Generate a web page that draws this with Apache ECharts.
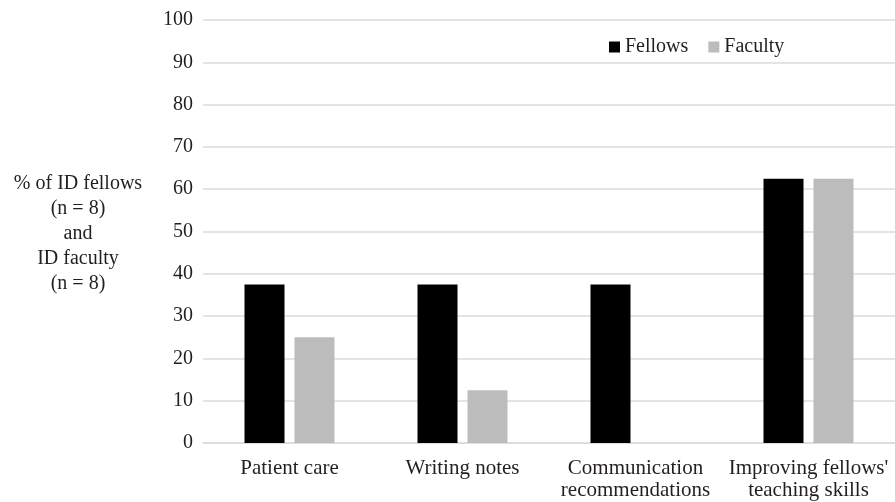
<!DOCTYPE html>
<html>
<head>
<meta charset="utf-8">
<script src="https://cdn.jsdelivr.net/npm/echarts@6/dist/echarts.min.js"></script>
<style>
html,body{margin:0;padding:0;background:#fff;}
#chart{width:895px;height:502px;}
</style>
</head>
<body>
<div id="chart"></div>
<script>
const categories = ['Patient care', 'Writing notes', 'Communication\nrecommendations', "Improving fellows'\nteaching skills"];
const fellows = [37.5, 37.5, 37.5, 62.5];
const faculty = [25, 12.5, 0, 62.5];
const yTicks = { min: 0, max: 100, interval: 10 };
const yName = '% of ID fellows\n(n = 8)\nand\nID faculty\n(n = 8)';

const FONT = '"Liberation Serif", "DejaVu Serif", serif';
const TXT = '#231f20';
const GRID = '#dedad8';

const chart = echarts.init(document.getElementById('chart'), null, { renderer: 'canvas' });
chart.setOption({
  animation: false,
  backgroundColor: '#ffffff',
  textStyle: { fontFamily: FONT, color: TXT },
  grid: { left: 203, top: 20, width: 700, height: 423, containLabel: false },
  legend: {
    left: 604, top: 32,
    icon: 'rect', itemWidth: 11, itemHeight: 11, itemGap: 20,
    textStyle: { fontFamily: FONT, fontSize: 20, color: TXT },
    data: ['Fellows', 'Faculty']
  },
  graphic: [{
    type: 'text',
    x: 78, y: 234,
    style: {
      text: yName,
      font: '20px ' + FONT,
      fill: TXT,
      textAlign: 'center',
      textVerticalAlign: 'middle',
      lineHeight: 25
    }
  }],
  xAxis: {
    type: 'category',
    data: categories,
    axisTick: { show: false },
    axisLine: { show: true, lineStyle: { color: GRID, width: 1.5 } },
    axisLabel: { interval: 0, fontFamily: FONT, fontSize: 21, color: TXT, lineHeight: 22, margin: 14 }
  },
  yAxis: {
    type: 'value',
    min: yTicks.min, max: yTicks.max, interval: yTicks.interval,
    axisLine: { show: false },
    axisTick: { show: false },
    axisLabel: { fontFamily: FONT, fontSize: 20, color: TXT, margin: 10 },
    splitLine: { lineStyle: { color: GRID, width: 1.5 } }
  },
  series: [
    { name: 'Fellows', type: 'bar', data: fellows, barWidth: 40, barGap: '25%', itemStyle: { color: '#000000' } },
    { name: 'Faculty', type: 'bar', data: faculty, barWidth: 40, barGap: '25%', itemStyle: { color: '#bdbcbc' } }
  ]
});
</script>
</body>
</html>
